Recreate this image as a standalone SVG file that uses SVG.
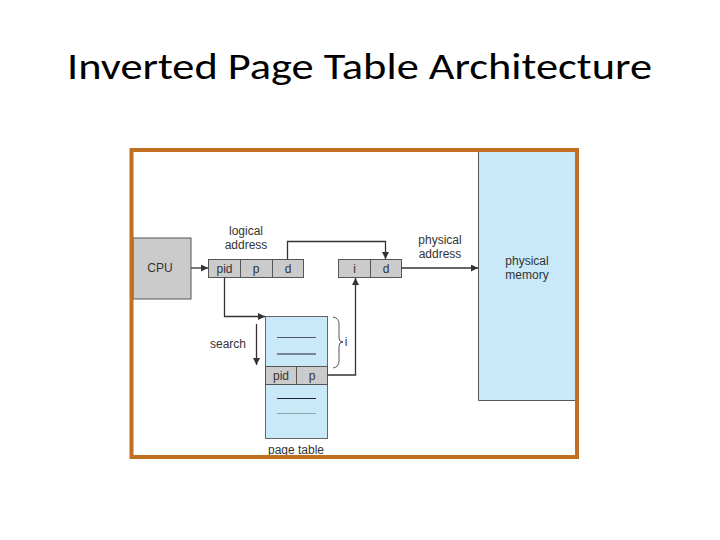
<svg xmlns="http://www.w3.org/2000/svg" width="720" height="540" viewBox="0 0 720 540">
<defs>
<style>
.t{font-family:"Liberation Sans",Arial,sans-serif;font-size:12px;fill:#333;text-anchor:middle}
.box{fill:#cbcbcb;stroke:#555;stroke-width:1}
.blue{fill:#c9e8f8;stroke:#666;stroke-width:1}
.ln{fill:none;stroke:#333;stroke-width:1.3}
</style>
<marker id="ah" viewBox="0 0 10 10" refX="10" refY="5" markerWidth="7" markerHeight="7" markerUnits="userSpaceOnUse" orient="auto"><path d="M0,0 L10,5 L0,10 z" fill="#333"/></marker>
</defs>
<rect x="0" y="0" width="720" height="540" fill="#fff"/>
<text x="67" y="79" font-family="Carlito,'Liberation Sans',Arial,sans-serif" font-size="36" textLength="585" lengthAdjust="spacingAndGlyphs" fill="#000">Inverted Page Table Architecture</text>

<g id="memory">
<rect x="478" y="152" width="97" height="249" fill="#c9e8f8"/>
<path d="M478.5,152 V400.5 H575" fill="none" stroke="#555" stroke-width="1"/>
<text class="t" x="527" y="265">physical</text>
<text class="t" x="527" y="279">memory</text>
</g>

<g id="cpu">
<rect class="box" x="133" y="238" width="58" height="61"/>
<text class="t" x="160" y="272" font-size="13">CPU</text>
</g>

<g id="logical">
<rect class="box" x="208.5" y="259.5" width="95" height="18"/>
<line x1="240.5" y1="259.5" x2="240.5" y2="277.5" stroke="#555"/>
<line x1="272.5" y1="259.5" x2="272.5" y2="277.5" stroke="#555"/>
<text class="t" x="224.5" y="273">pid</text>
<text class="t" x="256" y="273">p</text>
<text class="t" x="288" y="273">d</text>
<text class="t" x="246" y="235">logical</text>
<text class="t" x="246" y="249">address</text>
</g>

<g id="physaddr">
<rect class="box" x="338.5" y="259.5" width="63" height="18"/>
<line x1="370.5" y1="259.5" x2="370.5" y2="277.5" stroke="#555"/>
<text class="t" x="354.5" y="273">i</text>
<text class="t" x="386" y="273">d</text>
<text class="t" x="440" y="244">physical</text>
<text class="t" x="440" y="258">address</text>
</g>

<g id="pagetable">
<rect class="blue" x="265.5" y="316.5" width="62" height="122"/>
<rect class="box" x="265.5" y="366.5" width="62" height="18"/>
<line x1="296.5" y1="366.5" x2="296.5" y2="384.5" stroke="#555"/>
<text class="t" x="281" y="380">pid</text>
<text class="t" x="312" y="380">p</text>
<line x1="277" y1="337.5" x2="316" y2="337.5" stroke="#334" stroke-width="0.8"/>
<line x1="277" y1="354" x2="316" y2="354" stroke="#223" stroke-width="1.2"/>
<line x1="277" y1="398.5" x2="316" y2="398.5" stroke="#223" stroke-width="1"/>
<line x1="277" y1="413.5" x2="316" y2="413.5" stroke="#8aa" stroke-width="1"/>
<text class="t" x="296" y="454">page table</text>
<path d="M333,317 Q339,318 339,324 V338 Q339,342 343,342 Q339,342 339,346 V361 Q339,367 333,368" fill="none" stroke="#444" stroke-width="0.9"/>
<text class="t" x="346" y="346" font-size="11">i</text>
<text class="t" x="228" y="348">search</text>
</g>

<g id="connectors">
<line class="ln" x1="191" y1="268" x2="208" y2="268" marker-end="url(#ah)"/>
<path class="ln" d="M287.5,259 V241.5 H385.5 V259" marker-end="url(#ah)"/>
<line class="ln" x1="401.5" y1="268" x2="478" y2="268" stroke-width="1.8" marker-end="url(#ah)"/>
<path class="ln" d="M224.5,277.5 V316.5 H265" marker-end="url(#ah)"/>
<line class="ln" x1="256.5" y1="324" x2="256.5" y2="365" marker-end="url(#ah)"/>
<path class="ln" d="M327.5,375 H355.5 V278" marker-end="url(#ah)"/>
</g>

<g id="frame">
<rect x="131.5" y="150" width="445.5" height="307" fill="none" stroke="#c07020" stroke-width="4"/>
</g>
</svg>
